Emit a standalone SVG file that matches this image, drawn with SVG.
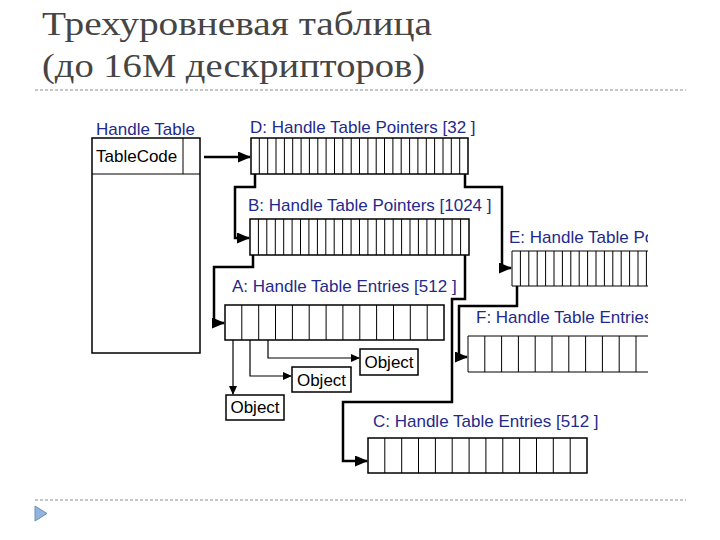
<svg xmlns="http://www.w3.org/2000/svg" width="720" height="540" viewBox="0 0 720 540">
<defs>
<style>
.title{font-family:"Liberation Serif","DejaVu Serif",serif;font-size:33px;fill:#454545}
.lbl{font-family:"Liberation Sans",Arial,sans-serif;font-size:17px;fill:#1f2a8c}
.txt{font-family:"Liberation Sans",Arial,sans-serif;font-size:17px;fill:#000}
.box{fill:#fff;stroke:#000;stroke-width:1.5}
.cells{fill:none;stroke:#000;stroke-width:1}
.conn{fill:none;stroke:#000;stroke-width:2.5}
.thin{fill:none;stroke:#000;stroke-width:1.2}
.rule{stroke:#b4b4b4;stroke-width:1.5;stroke-dasharray:3 2}
</style>
<marker id="ah" markerUnits="userSpaceOnUse" markerWidth="13" markerHeight="11" refX="12" refY="5.5" orient="auto">
<path d="M0,0 L13,5.5 L0,11 Z" fill="#000"/>
</marker>
<marker id="ahs" markerUnits="userSpaceOnUse" markerWidth="9" markerHeight="8" refX="8" refY="4" orient="auto">
<path d="M0,0 L9,4 L0,8 Z" fill="#000"/>
</marker>
<clipPath id="clipR"><rect x="0" y="0" width="648" height="540"/></clipPath>
</defs>
<rect width="720" height="540" fill="#fff"/>

<g id="title">
<text class="title" x="42" y="35" textLength="390" lengthAdjust="spacingAndGlyphs">Трехуровневая таблица</text>
<text class="title" x="42" y="77" textLength="383" lengthAdjust="spacingAndGlyphs">(до 16M дескрипторов)</text>
<line class="rule" x1="35" y1="90" x2="686" y2="90"/>
</g>

<g id="handle-table">
<text class="lbl" x="96" y="135">Handle Table</text>
<rect class="box" x="92" y="138" width="108" height="215"/>
<line class="cells" x1="92" y1="174" x2="200" y2="174" stroke-width="1.5"/>
<line class="cells" x1="183" y1="138" x2="183" y2="174"/>
<text class="txt" x="96" y="162">TableCode</text>
</g>

<g id="table-D">
<text class="lbl" x="250" y="133">D: Handle Table Pointers [32 ]</text>
<rect class="box" x="251" y="138" width="217" height="36"/>
<path class="cells" d="M259.3,138V174M267.7,138V174M276,138V174M284.4,138V174M292.7,138V174M301.1,138V174M309.4,138V174M317.8,138V174M326.1,138V174M334.5,138V174M342.8,138V174M351.2,138V174M359.5,138V174M367.9,138V174M376.2,138V174M384.5,138V174M392.9,138V174M401.2,138V174M409.6,138V174M417.9,138V174M426.3,138V174M434.6,138V174M443,138V174M451.3,138V174M459.7,138V174"/>
</g>

<g id="table-B">
<text class="lbl" x="248" y="211">B: Handle Table Pointers [1024 ]</text>
<rect class="box" x="250" y="219" width="219" height="36"/>
<path class="cells" d="M258.4,219V255M266.8,219V255M275.3,219V255M283.7,219V255M292.1,219V255M300.5,219V255M308.9,219V255M317.4,219V255M325.8,219V255M334.2,219V255M342.6,219V255M351.1,219V255M359.5,219V255M367.9,219V255M376.3,219V255M384.7,219V255M393.2,219V255M401.6,219V255M410,219V255M418.4,219V255M426.9,219V255M435.3,219V255M443.7,219V255M452.1,219V255M460.6,219V255"/>
</g>

<g id="table-A">
<text class="lbl" x="232" y="292">A: Handle Table Entries [512 ]</text>
<rect class="box" x="225" y="305" width="219" height="35"/>
<path class="cells" d="M241.8,305V340M258.7,305V340M275.5,305V340M292.4,305V340M309.2,305V340M326.1,305V340M342.9,305V340M359.8,305V340M376.6,305V340M393.5,305V340M410.3,305V340M427.2,305V340"/>
</g>

<g id="table-C">
<text class="lbl" x="373" y="427">C: Handle Table Entries [512 ]</text>
<rect class="box" x="368" y="438" width="219" height="35"/>
<path class="cells" d="M384.8,438V473M401.7,438V473M418.5,438V473M435.4,438V473M452.2,438V473M469.1,438V473M485.9,438V473M502.8,438V473M519.6,438V473M536.5,438V473M553.3,438V473M570.2,438V473"/>
</g>

<g id="table-E" clip-path="url(#clipR)">
<text class="lbl" x="509" y="243">E: Handle Table Pointers</text>
<path class="cells" stroke-width="1.5" d="M512,251H648M512,286H648M512,251V286"/>
<path class="cells" d="M520.4,251V286M528.8,251V286M537.2,251V286M545.6,251V286M554,251V286M562.4,251V286M570.8,251V286M579.2,251V286M587.6,251V286M596,251V286M604.4,251V286M612.8,251V286M621.2,251V286M629.6,251V286M638,251V286M646.4,251V286"/>
</g>

<g id="table-F" clip-path="url(#clipR)">
<text class="lbl" x="476" y="323">F: Handle Table Entries [512 ]</text>
<path class="cells" stroke-width="1.5" d="M468,336H648M468,372H648M468,336V372"/>
<path class="cells" d="M484.8,336V372M501.6,336V372M518.4,336V372M535.2,336V372M552,336V372M568.8,336V372M585.6,336V372M602.4,336V372M619.2,336V372M636,336V372"/>
</g>

<g id="object-1">
<rect class="box" x="360" y="349" width="58" height="26" stroke-width="1.2"/>
<text class="txt" x="389" y="368" text-anchor="middle">Object</text>
</g>
<g id="object-2">
<rect class="box" x="292" y="367" width="59" height="25" stroke-width="1.2"/>
<text class="txt" x="321.5" y="386" text-anchor="middle">Object</text>
</g>
<g id="object-3">
<rect class="box" x="226" y="395" width="58" height="25" stroke-width="1.2"/>
<text class="txt" x="255" y="413" text-anchor="middle">Object</text>
</g>

<g id="connectors">
<path class="conn" d="M204,157H250" marker-end="url(#ah)"/>
<path class="conn" d="M255,174V187H235V238H249" marker-end="url(#ah)"/>
<path class="conn" d="M465,174V187H502V268H511" marker-end="url(#ah)"/>
<path class="conn" d="M253,255V267H214V323H224" marker-end="url(#ah)"/>
<path class="conn" d="M465,255V299H452V402H343V461H367" marker-end="url(#ah)"/>
<path class="conn" d="M517,286V306H459V357H467" marker-end="url(#ah)"/>
<path class="thin" d="M233,340V394" marker-end="url(#ahs)"/>
<path class="thin" d="M250,340V376H291" marker-end="url(#ahs)"/>
<path class="thin" d="M268,340V358H359" marker-end="url(#ahs)"/>
</g>

<g id="footer">
<line class="rule" x1="35" y1="500" x2="686" y2="500"/>
<path d="M35,506L47,513.5L35,521Z" fill="#8fb4e0" stroke="#6f8fb8" stroke-width="1"/>
</g>
</svg>
